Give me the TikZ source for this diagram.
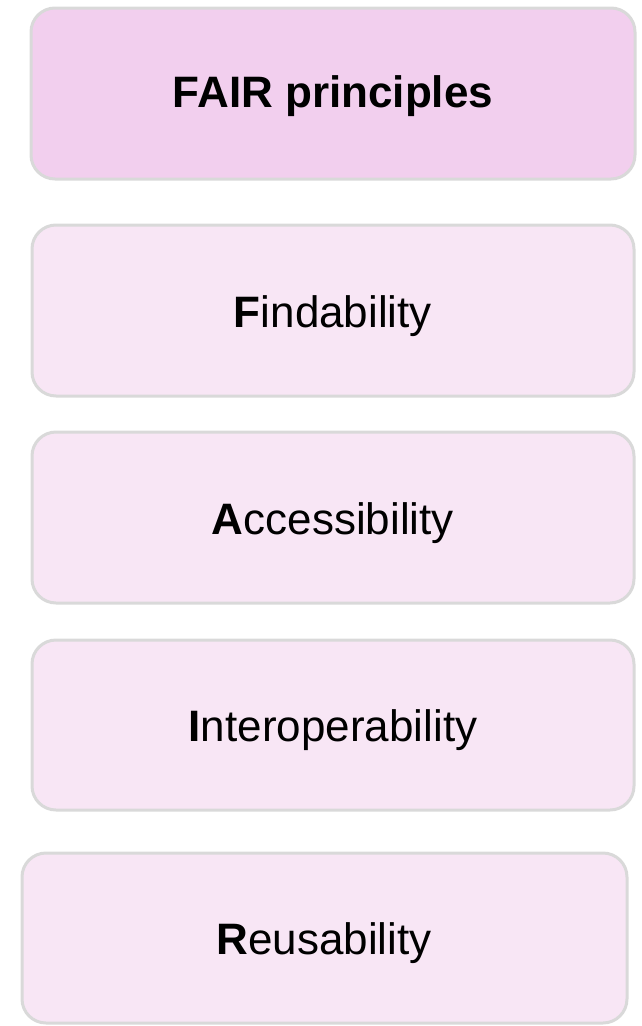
\documentclass[tikz,border=0pt]{standalone}
\usepackage{fontspec}
\setmainfont{Liberation Sans}
\definecolor{headfill}{HTML}{F2CFEE}
\definecolor{boxfill}{HTML}{F8E6F5}
\definecolor{boxline}{HTML}{D9D9D9}
\begin{document}
\begin{tikzpicture}[x=1pt,y=-1pt,
  fairbox/.style={draw=boxline,line width=3pt,rounded corners=24pt,fill=boxfill},
  headbox/.style={fairbox,fill=headfill},
  boxtext/.style={font=\fontsize{44}{52}\selectfont,anchor=base,inner sep=0pt},
  headtext/.style={boxtext,font=\fontsize{44}{52}\selectfont\bfseries}]
\useasboundingbox (0,0) rectangle (641,1026);
\draw[headbox] (31,8) rectangle (635,179);
\node[headtext] (head) at (333,107) {FAIR principles};
\draw[fairbox] (32,225) rectangle (634,396);
\node[boxtext] (f) at (333,327) {\textbf{F}indability};
\draw[fairbox] (32,432) rectangle (634,603);
\node[boxtext] (a) at (333,534) {\textbf{A}ccessibility};
\draw[fairbox] (32,640) rectangle (634,810);
\node[boxtext] (i) at (333,741) {\textbf{I}nteroperability};
\draw[fairbox] (22,853) rectangle (627,1023);
\node[boxtext] (r) at (324,954) {\textbf{R}eusability};
\end{tikzpicture}
\end{document}
